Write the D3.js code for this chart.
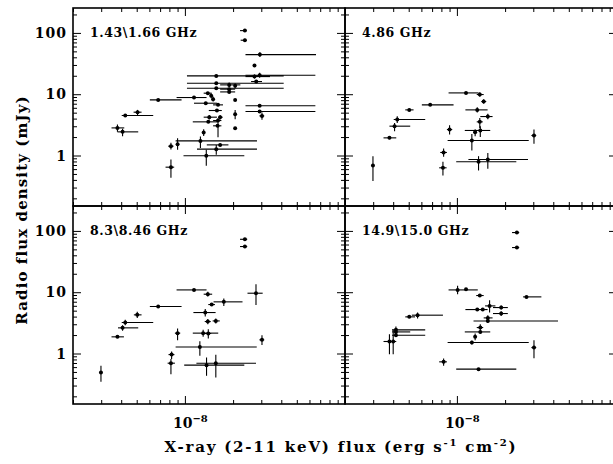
<!DOCTYPE html>
<html>
<head>
<meta charset="utf-8">
<script src="https://cdn.jsdelivr.net/npm/d3@7"></script>
<style>
  body { margin: 0; background: #fff; }
  svg { display: block; }
  text { font-family: "DejaVu Serif", "Liberation Serif", serif; fill: #000; }
</style>
</head>
<body>
<div id="chart"></div>
<script>
// panel captions (observing frequency)
const bandLabels = ["1.43\\1.66 GHz", "4.86 GHz", "8.3\\8.46 GHz", "14.9\\15.0 GHz"];

// axis ticks
const xDomain = [2e-9, 1e-7];
const yDomain = [0.15, 255];
const xLabelTicks = [1e-8];
const yLabelTicks = [1, 10, 100];
const yTickLabels = ["1", "10", "100"];

// each row: [x-ray flux, flux low, flux high, radio mJy, radio low, radio high]
const band1 = [
  [2.37e-8, 2.21e-8, 2.43e-8, 109, 106, 112],
  [2.37e-8, 2.23e-8, 2.43e-8, 76, 72, 80],
  [2.94e-8, 2.39e-8, 6.59e-8, 44.3, 40.6, 48.4],
  [2.72e-8, 2.72e-8, 2.72e-8, 29.3, 29.3, 29.3],
  [2.93e-8, 2.39e-8, 6.53e-8, 20.4, 18.5, 22.3],
  [1.57e-8, 1.03e-8, 4.14e-8, 19.9, 19.3, 20.5],
  [2.72e-8, 2.39e-8, 3.40e-8, 19.4, 18.0, 20.9],
  [2.79e-8, 2.59e-8, 3.03e-8, 16.1, 15.5, 16.7],
  [1.57e-8, 1.03e-8, 4.14e-8, 15.1, 14.5, 15.7],
  [1.57e-8, 1.03e-8, 4.14e-8, 12.5, 12.0, 13.0],
  [1.89e-8, 1.66e-8, 2.22e-8, 14.2, 13.0, 15.5],
  [2.06e-8, 2.06e-8, 2.06e-8, 13.7, 12.5, 15.0],
  [1.89e-8, 1.66e-8, 2.06e-8, 12.1, 11.7, 12.5],
  [1.89e-8, 1.66e-8, 2.06e-8, 10.9, 10.5, 11.3],
  [1.39e-8, 1.31e-8, 1.47e-8, 10.4, 10.0, 10.8],
  [1.46e-8, 1.43e-8, 1.49e-8, 9.4, 8.6, 10.3],
  [1.14e-8, 0.887e-8, 1.365e-8, 8.83, 8.6, 9.1],
  [0.681e-8, 0.604e-8, 0.953e-8, 8.08, 7.8, 8.3],
  [1.50e-8, 1.47e-8, 1.53e-8, 8.28, 7.6, 9.17],
  [2.06e-8, 2.06e-8, 2.06e-8, 8.08, 8.08, 8.08],
  [1.35e-8, 1.14e-8, 1.585e-8, 7.13, 6.9, 7.4],
  [1.61e-8, 1.50e-8, 1.73e-8, 6.70, 6.4, 7.0],
  [2.93e-8, 2.39e-8, 6.53e-8, 6.5, 6.2, 6.8],
  [1.585e-8, 1.41e-8, 1.70e-8, 5.42, 5.2, 5.65],
  [2.93e-8, 2.39e-8, 6.53e-8, 5.21, 5.0, 5.45],
  [3.03e-8, 2.92e-8, 3.13e-8, 4.43, 3.82, 5.02],
  [2.06e-8, 2.06e-8, 2.06e-8, 4.72, 3.91, 5.55],
  [1.42e-8, 1.31e-8, 1.585e-8, 4.22, 3.86, 4.6],
  [1.66e-8, 1.61e-8, 1.72e-8, 4.22, 3.86, 4.6],
  [1.40e-8, 1.12e-8, 1.60e-8, 3.54, 3.4, 3.7],
  [1.61e-8, 1.50e-8, 1.69e-8, 3.72, 1.99, 4.06],
  [1.60e-8, 1.50e-8, 1.69e-8, 3.05, 2.95, 3.15],
  [2.06e-8, 2.06e-8, 2.06e-8, 2.79, 2.79, 2.79],
  [1.31e-8, 1.31e-8, 1.31e-8, 2.37, 2.09, 2.69],
  [1.25e-8, 0.875e-8, 2.82e-8, 1.73, 1.32, 2.04],
  [1.66e-8, 1.37e-8, 1.87e-8, 1.49, 1.43, 1.55],
  [1.57e-8, 1.19e-8, 2.82e-8, 1.27, 1.03, 1.49],
  [0.90e-8, 0.88e-8, 0.92e-8, 1.53, 1.24, 1.92],
  [0.818e-8, 0.787e-8, 0.849e-8, 1.42, 1.25, 1.61],
  [1.36e-8, 0.98e-8, 2.35e-8, 0.99, 0.679, 1.24],
  [0.818e-8, 0.757e-8, 0.857e-8, 0.645, 0.433, 0.861],
  [0.506e-8, 0.478e-8, 0.536e-8, 5.09, 4.55, 5.55],
  [0.424e-8, 0.403e-8, 0.634e-8, 4.49, 4.3, 4.7],
  [0.379e-8, 0.348e-8, 0.418e-8, 2.82, 2.43, 3.2],
  [0.408e-8, 0.379e-8, 0.511e-8, 2.43, 2.07, 2.72]
];

const band2 = [
  [1.14e-8, 0.887e-8, 1.365e-8, 10.5, 10.2, 10.8],
  [1.39e-8, 1.33e-8, 1.47e-8, 9.88, 9.05, 10.8],
  [1.47e-8, 1.42e-8, 1.525e-8, 7.59, 6.96, 8.28],
  [0.681e-8, 0.604e-8, 0.953e-8, 6.70, 6.5, 6.9],
  [0.504e-8, 0.476e-8, 0.536e-8, 5.55, 5.3, 5.8],
  [1.34e-8, 1.13e-8, 1.555e-8, 5.55, 5.02, 6.14],
  [1.56e-8, 1.40e-8, 1.67e-8, 4.32, 3.91, 4.78],
  [0.424e-8, 0.403e-8, 0.634e-8, 3.86, 3.40, 4.38],
  [0.408e-8, 0.379e-8, 0.511e-8, 3.01, 2.49, 3.40],
  [1.39e-8, 1.33e-8, 1.45e-8, 3.54, 2.82, 4.11],
  [1.30e-8, 1.26e-8, 1.33e-8, 2.40, 2.07, 2.69],
  [1.40e-8, 1.12e-8, 1.615e-8, 2.56, 2.0, 3.01],
  [0.90e-8, 0.866e-8, 0.935e-8, 2.65, 2.20, 3.12],
  [0.379e-8, 0.348e-8, 0.418e-8, 1.94, 1.85, 2.03],
  [1.24e-8, 0.875e-8, 2.81e-8, 1.76, 1.21, 2.25],
  [3.03e-8, 2.92e-8, 3.13e-8, 2.12, 1.55, 2.65],
  [0.826e-8, 0.787e-8, 0.866e-8, 1.12, 0.95, 1.30],
  [0.818e-8, 0.775e-8, 0.862e-8, 0.63, 0.472, 0.79],
  [1.365e-8, 0.99e-8, 2.35e-8, 0.79, 0.57, 0.975],
  [1.56e-8, 1.18e-8, 2.78e-8, 0.86, 0.607, 1.10],
  [0.299e-8, 0.299e-8, 0.299e-8, 0.687, 0.382, 0.975]
];

const band3 = [
  [2.37e-8, 2.21e-8, 2.45e-8, 73, 70, 76],
  [2.37e-8, 2.21e-8, 2.45e-8, 55.6, 53, 58],
  [1.14e-8, 0.887e-8, 1.365e-8, 10.9, 10.6, 11.2],
  [1.39e-8, 1.31e-8, 1.48e-8, 9.28, 8.5, 10.2],
  [2.78e-8, 2.46e-8, 3.06e-8, 9.63, 6.21, 13.5],
  [1.75e-8, 1.51e-8, 2.29e-8, 6.96, 5.98, 7.88],
  [1.47e-8, 1.40e-8, 1.54e-8, 6.29, 6.0, 6.6],
  [0.681e-8, 0.604e-8, 0.953e-8, 5.84, 5.6, 6.1],
  [1.34e-8, 1.13e-8, 1.555e-8, 4.66, 4.01, 5.3],
  [0.504e-8, 0.48e-8, 0.536e-8, 4.27, 3.81, 4.78],
  [0.424e-8, 0.403e-8, 0.634e-8, 3.2, 2.88, 3.54],
  [0.408e-8, 0.382e-8, 0.511e-8, 2.62, 2.35, 2.9],
  [1.39e-8, 1.33e-8, 1.45e-8, 3.32, 3.0, 3.65],
  [1.56e-8, 1.49e-8, 1.65e-8, 3.40, 3.08, 3.72],
  [0.90e-8, 0.866e-8, 0.935e-8, 2.15, 1.65, 2.56],
  [1.30e-8, 1.12e-8, 1.615e-8, 2.15, 1.87, 2.43],
  [1.40e-8, 1.33e-8, 1.46e-8, 2.12, 1.76, 2.49],
  [0.379e-8, 0.348e-8, 0.416e-8, 1.87, 1.8, 1.95],
  [3.03e-8, 2.92e-8, 3.13e-8, 1.67, 1.37, 1.99],
  [1.24e-8, 0.875e-8, 2.81e-8, 1.28, 0.92, 1.59],
  [0.826e-8, 0.79e-8, 0.86e-8, 0.96, 0.81, 1.08],
  [0.818e-8, 0.78e-8, 0.866e-8, 0.695, 0.46, 0.81],
  [1.365e-8, 0.99e-8, 2.35e-8, 0.645, 0.433, 0.861],
  [1.56e-8, 1.18e-8, 2.78e-8, 0.695, 0.406, 0.95],
  [0.299e-8, 0.299e-8, 0.299e-8, 0.49, 0.345, 0.63]
];

const band4 = [
  [2.37e-8, 2.21e-8, 2.45e-8, 94, 94, 94],
  [2.37e-8, 2.21e-8, 2.45e-8, 53.5, 53.5, 53.5],
  [1.01e-8, 0.887e-8, 1.35e-8, 10.9, 9.28, 12.7],
  [1.14e-8, 1.14e-8, 1.14e-8, 11.2, 11.2, 11.2],
  [1.39e-8, 1.32e-8, 1.47e-8, 8.83, 8.6, 9.1],
  [2.72e-8, 2.59e-8, 3.37e-8, 8.39, 8.2, 8.6],
  [1.60e-8, 1.50e-8, 1.74e-8, 5.98, 4.66, 7.37],
  [1.89e-8, 1.68e-8, 2.08e-8, 5.62, 5.2, 6.05],
  [1.34e-8, 1.13e-8, 1.555e-8, 5.21, 5.0, 5.4],
  [1.45e-8, 1.45e-8, 1.45e-8, 5.21, 5.0, 5.4],
  [1.89e-8, 1.68e-8, 2.08e-8, 4.49, 4.1, 4.9],
  [1.56e-8, 1.47e-8, 1.67e-8, 3.81, 3.2, 4.22],
  [1.56e-8, 1.27e-8, 4.28e-8, 3.40, 3.2, 3.6],
  [0.568e-8, 0.523e-8, 0.818e-8, 4.22, 3.72, 4.66],
  [0.504e-8, 0.476e-8, 0.548e-8, 3.96, 3.8, 4.1],
  [1.40e-8, 1.33e-8, 1.46e-8, 2.65, 2.35, 3.01],
  [1.40e-8, 1.12e-8, 1.615e-8, 2.25, 2.15, 2.35],
  [1.30e-8, 1.30e-8, 1.30e-8, 1.87, 1.65, 2.12],
  [1.24e-8, 0.875e-8, 2.81e-8, 1.51, 1.4, 1.62],
  [3.03e-8, 2.92e-8, 3.13e-8, 1.25, 0.84, 1.65],
  [0.416e-8, 0.393e-8, 0.634e-8, 2.43, 2.07, 2.76],
  [0.416e-8, 0.393e-8, 0.511e-8, 2.25, 2.15, 2.35],
  [0.416e-8, 0.393e-8, 0.634e-8, 1.99, 1.9, 2.08],
  [0.379e-8, 0.348e-8, 0.418e-8, 1.57, 0.975, 2.07],
  [0.40e-8, 0.40e-8, 0.40e-8, 1.57, 0.975, 2.43],
  [0.826e-8, 0.775e-8, 0.866e-8, 0.731, 0.63, 0.83],
  [1.365e-8, 0.99e-8, 2.35e-8, 0.556, 0.53, 0.58]
];

const bands = [band1, band2, band3, band4];

// layout
const width = 613, height = 464;
const margin = { top: 8, left: 73 };
const panelW = 272, panelH = 198;

const svg = d3.select("#chart")
  .append("svg")
  .attr("width", width)
  .attr("height", height);

const isDecade = v => Math.abs(Math.log10(v) - Math.round(Math.log10(v))) < 1e-6;

bands.forEach((rows, i) => {
  const col = i % 2, row = Math.floor(i / 2);
  const x0 = margin.left + col * panelW;
  const y0 = margin.top + row * panelH;

  const x = d3.scaleLog().domain(xDomain).range([x0, x0 + panelW]);
  const y = d3.scaleLog().domain(yDomain).range([y0 + panelH, y0]);

  const xMinor = x.ticks().filter(v => !isDecade(v));
  const xMajor = x.ticks().filter(isDecade);
  const yMinor = y.ticks().filter(v => !isDecade(v));
  const yMajor = y.ticks().filter(isDecade);

  const g = svg.append("g");

  // inward ticks on all four sides
  const addAxis = (axis, tx, ty) => {
    const a = g.append("g")
      .attr("transform", `translate(${tx},${ty})`)
      .call(axis);
    a.select(".domain").remove();
    a.selectAll("line").attr("stroke", "#000").attr("stroke-width", 1);
  };
  addAxis(d3.axisBottom(x).tickValues(xMinor).tickSize(-4).tickFormat(""), 0, y0 + panelH);
  addAxis(d3.axisBottom(x).tickValues(xMajor).tickSize(-8).tickFormat(""), 0, y0 + panelH);
  addAxis(d3.axisTop(x).tickValues(xMinor).tickSize(-4).tickFormat(""), 0, y0);
  addAxis(d3.axisTop(x).tickValues(xMajor).tickSize(-8).tickFormat(""), 0, y0);
  addAxis(d3.axisLeft(y).tickValues(yMinor).tickSize(-4).tickFormat(""), x0, 0);
  addAxis(d3.axisLeft(y).tickValues(yMajor).tickSize(-8).tickFormat(""), x0, 0);
  addAxis(d3.axisRight(y).tickValues(yMinor).tickSize(-4).tickFormat(""), x0 + panelW, 0);
  addAxis(d3.axisRight(y).tickValues(yMajor).tickSize(-8).tickFormat(""), x0 + panelW, 0);

  // frame
  g.append("rect")
    .attr("x", x0).attr("y", y0)
    .attr("width", panelW).attr("height", panelH)
    .attr("fill", "none")
    .attr("stroke", "#000")
    .attr("stroke-width", 1.6);

  // y tick labels on left column
  if (col === 0) {
    g.selectAll(".ylab")
      .data(yLabelTicks)
      .join("text")
      .attr("x", x0 - 6)
      .attr("y", d => y(d))
      .attr("dy", "0.36em")
      .attr("text-anchor", "end")
      .attr("font-size", "14px")
      .attr("font-weight", "bold")
      .attr("letter-spacing", "1px")
      .text((d, k) => yTickLabels[k]);
  }

  // x tick labels on bottom row
  if (row === 1) {
    xLabelTicks.forEach(v => {
      const t = g.append("text")
        .attr("x", x(v) - 12)
        .attr("y", y0 + panelH + 24)
        .attr("font-size", "14px")
        .attr("font-weight", "bold");
      t.append("tspan").text("10");
      t.append("tspan").attr("dy", -6).attr("font-size", "10px").text("\u22128");
    });
  }

  // panel caption
  g.append("text")
    .attr("x", x0 + 17)
    .attr("y", y0 + 29)
    .attr("font-size", "12.5px")
    .attr("font-weight", "bold")
    .attr("letter-spacing", "0.6px")
    .text(bandLabels[i]);

  // error bars
  const pts = g.append("g");
  pts.selectAll(".xerr")
    .data(rows)
    .join("line")
    .attr("x1", d => x(d[1])).attr("x2", d => x(d[2]))
    .attr("y1", d => y(d[3])).attr("y2", d => y(d[3]))
    .attr("stroke", "#000").attr("stroke-width", 1.1);
  pts.selectAll(".yerr")
    .data(rows)
    .join("line")
    .attr("x1", d => x(d[0])).attr("x2", d => x(d[0]))
    .attr("y1", d => y(d[4])).attr("y2", d => y(d[5]))
    .attr("stroke", "#000").attr("stroke-width", 1.1);
  pts.selectAll("circle")
    .data(rows)
    .join("circle")
    .attr("cx", d => x(d[0]))
    .attr("cy", d => y(d[3]))
    .attr("r", 2)
    .attr("fill", "#000");
});

// axis titles
svg.append("text")
  .attr("transform", `translate(27,${margin.top + panelH + 4}) rotate(-90)`)
  .attr("text-anchor", "middle")
  .attr("font-size", "15px")
  .attr("font-weight", "bold")
  .attr("letter-spacing", "1.1px")
  .text("Radio flux density (mJy)");

const xt = svg.append("text")
  .attr("x", 341)
  .attr("y", 452)
  .attr("text-anchor", "middle")
  .attr("font-size", "15px")
  .attr("font-weight", "bold")
  .attr("letter-spacing", "1.8px");
xt.append("tspan").text("X-ray (2-11 keV) flux (erg s");
xt.append("tspan").attr("dy", -6).attr("font-size", "10px").text("-1");
xt.append("tspan").attr("dy", 6).text(" cm");
xt.append("tspan").attr("dy", -6).attr("font-size", "10px").text("-2");
xt.append("tspan").attr("dy", 6).text(")");
</script>
</body>
</html>
